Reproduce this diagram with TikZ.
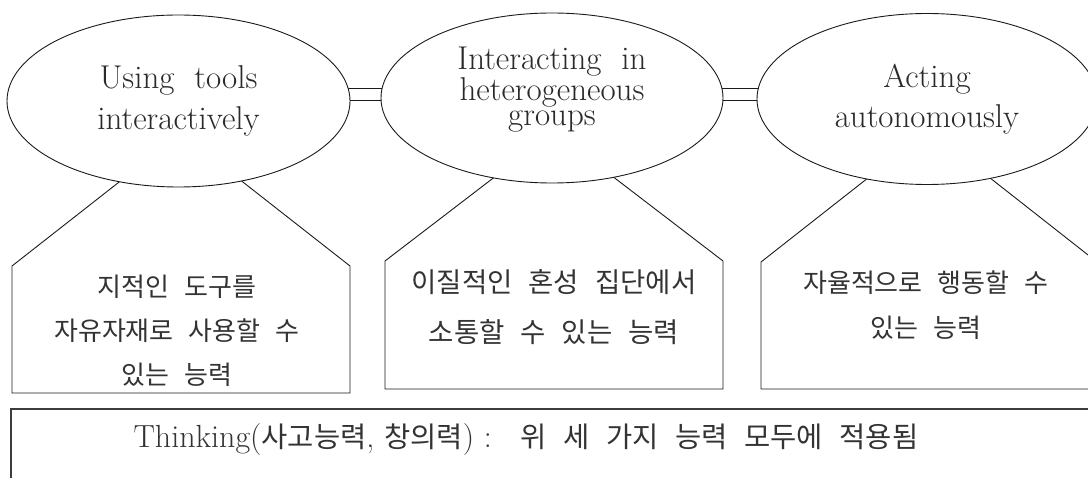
\documentclass[tikz,border=0pt]{standalone}
\usepackage{fontspec}
\newfontfamily\kr[WordSpace=1.8]{Noto Sans CJK KR}
\newfontfamily\krw[WordSpace=2.6]{Noto Sans CJK KR}
\usetikzlibrary{shapes.geometric,backgrounds}
\definecolor{lc}{HTML}{1A1A1A}
\definecolor{tc}{HTML}{2A2A2A}
\definecolor{kc}{HTML}{333333}
\begin{document}
\begin{tikzpicture}[x=1pt,y=-1pt,
  oval/.style={ellipse, draw=lc, fill=white, line width=0.9pt, inner sep=0pt, align=center, text=tc},
  etext/.style={align=center, text=tc, inner sep=0pt},
  pent/.style={draw=lc, fill=white, line width=0.9pt},
  ktext/.style={align=center, text=kc},
  linkline/.style={draw=lc, line width=0.9pt},
  boxline/.style={draw=lc!85, line width=1.1pt}]
\useasboundingbox (0,0) rectangle (1088,478);
\clip (0,0) rectangle (1088,478);
% bottom box
\draw[boxline] (11,520) -- (11,409) -- (1110,409) -- (1110,520);
\node[ktext, font=\fontsize{32}{34}\selectfont] (tb) at (526,440)
  {Thinking({\krw\fontsize{28.5}{34}\selectfont 사고능력}, {\krw\fontsize{28.5}{34}\selectfont 창의력})\ :\ \ \ {\krw\fontsize{28.5}{34}\selectfont 위 세 가지 능력 모두에 적용됨}};
% pentagons
\draw[pent] (12,393) -- (12,266) -- (181,133.5) -- (350,266) -- (350,393) -- cycle;
\draw[pent] (385,389) -- (385,261) -- (554,131.5) -- (723,261) -- (723,389) -- cycle;
\draw[pent] (761,389) -- (761,262) -- (929,130) -- (1097,262) -- (1097,389) -- cycle;
\node[ktext, font=\kr\fontsize{26}{44}\selectfont] (k1) at (177,331)
  {지적인 도구를\\자유자재로 사용할 수\\있는 능력};
\node[ktext, font=\kr\fontsize{27.5}{50}\selectfont] (k2) at (554,307)
  {이질적인 혼성 집단에서\\소통할 수 있는 능력};
\node[ktext, font=\kr\fontsize{26}{45}\selectfont] (k3) at (926,305)
  {자율적으로 행동할 수\\있는 능력};
% ellipses
\node[oval, minimum width=343pt, minimum height=172pt, font=\fontsize{33}{41}\selectfont] (e1) at (178.5,101)
  {Using\ \ tools\\interactively};
\node[oval, minimum width=342pt, minimum height=170pt] (e2) at (552,98) {};
\node[etext, font=\fontsize{33}{25.5}\selectfont] (t2) at (552,90)
  {Interacting\ \ in\\heterogeneous\\groups};
\node[oval, minimum width=340pt, minimum height=171pt, font=\fontsize{33}{40}\selectfont] (e3) at (927,99)
  {Acting\\autonomously};
% links (double bars between the ellipses, hidden inside them)
\begin{scope}[on background layer]
\draw[linkline] ([yshift=13pt]e1.center) -- ([yshift=10pt]e2.center);
\draw[linkline] ([yshift=1pt]e1.center) -- ([yshift=-2pt]e2.center);
\draw[linkline] ([yshift=10pt]e2.center) -- ([yshift=11pt]e3.center);
\draw[linkline] ([yshift=-2pt]e2.center) -- ([yshift=-1pt]e3.center);
\end{scope}
\end{tikzpicture}
\end{document}
